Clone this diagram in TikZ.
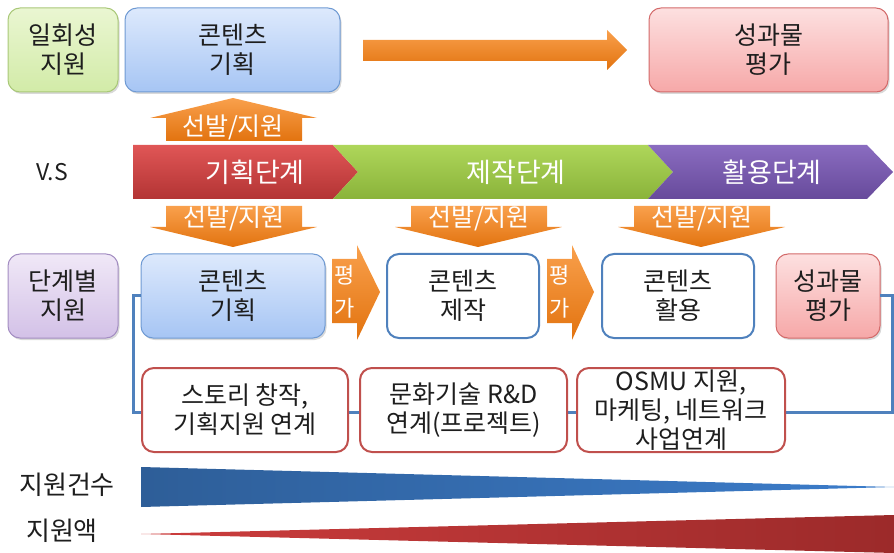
\documentclass[tikz,border=0pt]{standalone}
\usepackage{fontspec}
\setmainfont{Noto Sans CJK KR}
\usetikzlibrary{shadows}
\definecolor{gtop}{HTML}{EAF6D2}
\definecolor{gbot}{HTML}{D2EBA8}
\definecolor{gbord}{HTML}{A9C878}
\definecolor{btop}{HTML}{DDE9FC}
\definecolor{bbot}{HTML}{A6C5F4}
\definecolor{bbord}{HTML}{6F9AD3}
\definecolor{ptop}{HTML}{FDE0E0}
\definecolor{pbot}{HTML}{F6A8A8}
\definecolor{pbord}{HTML}{D36A6A}
\definecolor{vtop}{HTML}{F0E8F7}
\definecolor{vbot}{HTML}{D3C1E7}
\definecolor{vbord}{HTML}{A38DC2}
\definecolor{linkblue}{HTML}{4F81BD}
\definecolor{boxred}{HTML}{C0504D}
\definecolor{otop}{HTML}{F9A04C}
\definecolor{obot}{HTML}{E2730F}
\definecolor{rtop}{HTML}{E05656}
\definecolor{rbot}{HTML}{B33434}
\definecolor{grtop}{HTML}{AED65A}
\definecolor{grbot}{HTML}{8AB33A}
\definecolor{putop}{HTML}{8A6CC0}
\definecolor{pubot}{HTML}{674A9B}
\definecolor{tblue1}{HTML}{2E5E98}
\definecolor{tblue2}{HTML}{3C7DCB}
\definecolor{tred1}{HTML}{CC3D3D}
\definecolor{tred2}{HTML}{9C2A2A}
\definecolor{ink}{HTML}{1E1E1E}
\begin{document}
\begin{tikzpicture}[x=1pt,y=-1pt,
  every node/.style={inner sep=0pt, outer sep=0pt},
  txt/.style={font=\fontsize{25}{29}\selectfont, align=center, text=ink},
  smalltxt/.style={font=\fontsize{25}{29}\selectfont, align=center, text=ink},
  wtxt/.style={font=\fontsize{25}{26}\selectfont, text=white},
  bandtxt/.style={font=\fontsize{27}{28}\selectfont, text=white},
  shade box/.style={rounded corners=12pt, line width=1pt, txt, minimum height=84pt,
    drop shadow={opacity=0.3, shadow xshift=1.5pt, shadow yshift=-2pt}},
  greenbox/.style={shade box, draw=gbord, top color=gtop, bottom color=gbot},
  bluebox/.style={shade box, draw=bbord, top color=btop, bottom color=bbot},
  pinkbox/.style={shade box, draw=pbord, top color=ptop, bottom color=pbot},
  violetbox/.style={shade box, draw=vbord, top color=vtop, bottom color=vbot},
  whitebox/.style={rounded corners=12pt, line width=2pt, txt, minimum height=84pt, draw=linkblue, fill=white},
  redbox/.style={rounded corners=12pt, line width=2pt, smalltxt, minimum height=84pt, draw=boxred, fill=white},
  orange/.style={top color=otop, bottom color=obot},
  bracket/.style={draw=linkblue, line width=3pt},
]
\useasboundingbox (0,0) rectangle (894,553);

% ---------- top row ----------
\node[greenbox, minimum width=110pt] (once) at (63,50) {일회성\\지원};
\node[bluebox, minimum width=215pt] (plantop) at (232.5,50) {콘텐츠\\기획};
\node[pinkbox, minimum width=239pt] (evaltop) at (768.5,50) {성과물\\평가};
\shade[orange] (363,40) -- (607,40) -- (607,30) -- (627,50) -- (607,70) -- (607,61) -- (363,61) -- cycle;

% up arrow
\shade[orange] (166,141) -- (166,118) -- (150,118) -- (233,98) -- (317,118) -- (302,118) -- (302,141) -- cycle;
\node[wtxt] (upl) at (233,127) {선발/지원};

% ---------- band ----------
\node[font=\fontsize{23}{26}\selectfont, text=ink] (vs) at (52,172) {V.S};
\shade[top color=rtop, bottom color=rbot] (133,145) -- (333,145) -- (358,172) -- (333,199) -- (133,199) -- cycle;
\shade[top color=grtop, bottom color=grbot] (333,145) -- (648,145) -- (673,172) -- (648,199) -- (333,199) -- (358,172) -- cycle;
\shade[top color=putop, bottom color=pubot] (648,145) -- (867,145) -- (893,172) -- (867,199) -- (648,199) -- (673,172) -- cycle;
\node[bandtxt] (s1) at (255,172) {기획단계};
\node[bandtxt] (s2) at (516,172) {제작단계};
\node[bandtxt] (s3) at (772,172) {활용단계};

% down arrows
\foreach \c/\n in {233/d1, 478/d2, 701/d3}{
  \shade[orange] (\c-67,206) -- (\c+69,206) -- (\c+69,227) -- (\c+84,227) -- (\c,247) -- (\c-83,227) -- (\c-67,227) -- cycle;
  \node[wtxt] (\n) at (\c+1,218) {선발/지원};
}

% ---------- middle row ----------
\node[violetbox, minimum width=110pt] (stage) at (63,296) {단계별\\지원};
\coordinate (bl) at (133,412);
\coordinate (br) at (892,412);
\node[bluebox, minimum width=184pt] (plan) at (233,296) {콘텐츠\\기획};
\node[whitebox, minimum width=152pt] (make) at (463,296) {콘텐츠\\제작};
\node[whitebox, minimum width=152pt] (use) at (678,296) {콘텐츠\\활용};
\node[pinkbox, minimum width=104pt] (eval) at (828,296) {성과물\\평가};
\draw[bracket] (plan.west) -| (bl) -- (br) |- (eval.east);

% evaluation arrows
\shade[orange] (332,259) -- (357,259) -- (357,245) -- (380,292) -- (357,340) -- (357,323) -- (332,323) -- cycle;
\node[wtxt, align=center, font=\fontsize{22}{33}\selectfont] (ev1) at (345,292) {평\\가};
\shade[orange] (547,259) -- (572,259) -- (572,245) -- (594,292) -- (572,340) -- (572,323) -- (547,323) -- cycle;
\node[wtxt, align=center, font=\fontsize{22}{33}\selectfont] (ev2) at (560,292) {평\\가};

% ---------- bottom boxes ----------
\node[redbox, minimum width=206pt] (b1) at (245,410) {스토리 창작,\\기획지원 연계};
\node[redbox, minimum width=207pt] (b2) at (463.5,410) {문화기술 R\&D\\연계(프로젝트)};
\node[redbox, minimum width=208pt] (b3) at (681,410) {OSMU 지원,\\마케팅, 네트워크\\사업연계};

% ---------- triangles ----------
\node[txt, font=\fontsize{26}{29}\selectfont] (cnt) at (67,485) {지원건수};
\node[txt, font=\fontsize{26}{29}\selectfont] (amt) at (62,531) {지원액};
\shade[left color=tblue1, right color=tblue2] (141,467) -- (894,487) -- (141,507) -- cycle;
\shade[left color=tred1, right color=tred2] (141,534) -- (894,515) -- (894,553) -- cycle;
\end{tikzpicture}
\end{document}
